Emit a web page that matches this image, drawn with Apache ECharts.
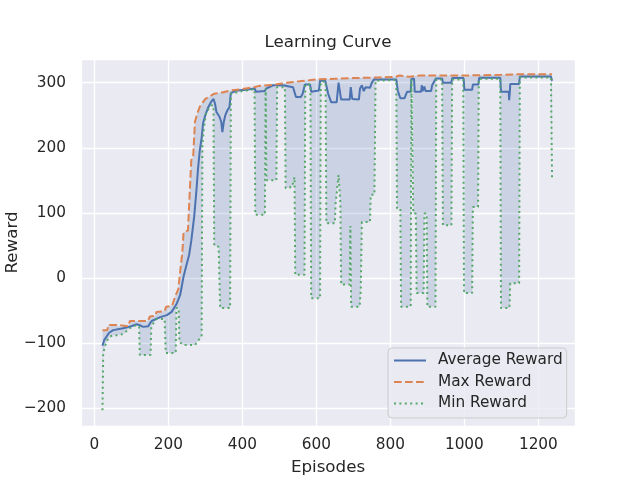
<!DOCTYPE html>
<html>
<head>
<meta charset="utf-8">
<script src="https://cdn.jsdelivr.net/npm/echarts@6/dist/echarts.min.js"></script>
<style>html,body{margin:0;padding:0;background:#fff}#c{width:640px;height:480px}</style>
</head>
<body>
<div id="c"></div>
<script>
// [episode, reward] pairs
const avgReward = [[22,-104],[27,-95],[33,-90],[40,-84],[51,-80],[78,-77],[100,-74],[114,-71],[125,-73],[132,-75],[146,-74],[150,-70],[155,-66],[178,-60],[196,-57],[209,-52],[223,-39],[232,-26],[241,2],[249,20],[256,35],[262,57],[266,60],[270,95],[276,135],[280,166],[285,196],[290,215],[294,238],[300,250],[307,261],[315,270],[322,275],[326,268],[330,255],[338,248],[343,240],[346,224],[350,240],[354,250],[360,258],[365,262],[369,284],[385,288],[410,289],[433,291],[437,286],[460,287],[465,291],[483,296],[510,296],[515,293],[537,293],[541,290],[545,278],[558,278],[563,283],[569,297],[583,297],[586,286],[607,288],[610,303],[624,303],[632,283],[640,270],[655,270],[660,300],[662,300],[667,274],[690,274],[693,293],[697,275],[715,274],[718,291],[723,296],[728,287],[733,293],[745,292],[750,300],[756,305],[816,305],[820,288],[827,276],[838,276],[845,286],[855,286],[857,306],[864,306],[866,286],[883,286],[885,296],[887,287],[890,287],[892,294],[895,287],[910,287],[913,296],[918,297],[923,306.5],[940,306.5],[942,300],[965,300],[967,307],[998,307],[1000,289],[1021,289],[1023,297],[1038,297],[1040,307.5],[1097,307.5],[1099,286],[1120,286],[1121,273],[1123,286],[1124,298],[1148,298],[1150,309.5],[1234,309.5],[1237,303]];

const maxReward = [[22,-80],[35,-80],[38,-72],[62,-72],[64,-74],[92,-74],[96,-66],[145,-66],[150,-59],[165,-58],[168,-52],[190,-51],[194,-44],[210,-43],[218,-29],[227,-17],[233,15],[238,40],[241,70],[253,73],[262,181],[267,185],[272,240],[278,252],[285,263],[300,275],[324,283],[345,285],[369,288],[400,290],[432,293],[445,295],[490,297],[520,300],[555,302],[600,305],[650,306],[700,307],[770,308],[815,309],[824,311],[850,309],[880,311],[1000,311],[1100,312],[1150,313],[1237,313]];

const minReward = [[22,-203],[24,-115],[28,-107],[33,-97],[42,-90],[51,-88],[60,-88],[78,-86],[96,-77],[114,-72],[121,-75],
[123,-118],[152,-118],[154,-75],[159,-70],[168,-63],[190,-63],
[193,-115],[220,-115],[222,-46],[228,-46],
[230,-98],[240,-103],[272,-103],[282,-95],[290,-90],
[292,205],[296,230],[302,254],[316,265],[322,265],
[324,50],[336,48],[340,-46],[367,-46],
[369,283],[400,287],[433,290],
[435,97],[461,97],[463,291],[465,150],[492,150],[494,293],[515,293],
[517,138],[535,140],[541,155],[543,5],[568,5],[570,297],[584,297],
[586,-31],[610,-31],[612,301],[625,302],
[627,84],[650,84],[652,114],[660,158],[665,115],[667,-10],[690,-10],[692,80],[694,-44],[717,-44],[720,-18],[723,86],[745,86],[747,128],[757,128],[760,303],[816,304],
[818,107],[827,107],[829,-44],[855,-44],[857,305],[861,305],[862,99],[869,99],[871,-23],[890,-23],[892,99],[898,99],[900,-44],[922,-44],[924,305],[940,305],[942,81],[965,81],[967,305],[997,305],[999,-23],[1021,-23],[1023,109],[1037,109],[1039,306],[1097,306],[1099,-46],[1122,-46],[1124,-8],[1148,-8],[1150,308],[1234,308],[1237,153]];

const seriesNames = ['Average Reward', 'Max Reward', 'Min Reward'];

const FONT = 'DejaVu Sans';
const chart = echarts.init(document.getElementById('c'), null, {renderer: 'canvas'});
const fmtMinus = s => String(s).replace('-', '\u2212');

chart.setOption({
  animation: false,
  backgroundColor: '#ffffff',
  title: {
    text: 'Learning Curve', left: 328, top: 34, textAlign: 'center', padding: 0,
    textStyle: {fontFamily: FONT, fontSize: 16.7, fontWeight: 'normal', color: '#262626'}
  },
  grid: {left: 81, right: 65, top: 59, bottom: 54, show: true, backgroundColor: '#eaeaf2', borderWidth: 0,
    containLabel: false, outerBoundsMode: 'none'},
  xAxis: {
    type: 'value', min: -36, max: 1299, splitNumber: 6,
    name: 'Episodes', nameLocation: 'middle', nameGap: 33, nameMoveOverlap: false,
    nameTextStyle: {fontFamily: FONT, fontSize: 16.7, color: '#262626'},
    axisLine: {show: false}, axisTick: {show: false},
    axisLabel: {fontFamily: FONT, fontSize: 15.3, color: '#262626', margin: 12,
      formatter: v => (Math.abs(v % 200) < 1e-6 ? fmtMinus(v) : '')},
    splitLine: {show: true, lineStyle: {color: '#ffffff', width: 1.3}}
  },
  yAxis: {
    type: 'value', min: -227.2, max: 336.3, splitNumber: 5,
    name: 'Reward', nameLocation: 'middle', nameGap: 60, nameRotate: 90, nameMoveOverlap: false,
    nameTextStyle: {fontFamily: FONT, fontSize: 16.7, color: '#262626'},
    axisLine: {show: false}, axisTick: {show: false},
    axisLabel: {fontFamily: FONT, fontSize: 15.3, color: '#262626', margin: 15,
      formatter: v => (Math.abs(v % 100) < 1e-6 ? fmtMinus(v) : '')},
    splitLine: {show: true, lineStyle: {color: '#ffffff', width: 1.3}}
  },
  legend: {
    data: seriesNames, orient: 'vertical', left: 388, top: 348,
    itemWidth: 32, itemHeight: 14, itemGap: 6.5,
    padding: [5, 4, 7, 5],
    itemStyle: {opacity: 0},
    backgroundColor: 'rgba(234,234,242,0.8)', borderColor: '#cccccc', borderWidth: 1, borderRadius: 4,
    textStyle: {fontFamily: FONT, fontSize: 15.3, color: '#262626', padding: [0, 0, 0, 7]}
  },
  series: [
    {
      type: 'custom', name: 'band', silent: true, z: 1,
      data: [[maxReward[0][0], maxReward[0][1]]],
      renderItem: function (params, api) {
        const pts = [];
        maxReward.forEach(p => pts.push(api.coord(p)));
        for (let i = minReward.length - 1; i >= 0; i--) pts.push(api.coord(minReward[i]));
        return {type: 'polygon', shape: {points: pts}, style: {fill: 'rgba(76,114,176,0.2)'}};
      }
    },
    {
      type: 'line', name: seriesNames[0], data: avgReward, symbol: 'none', z: 2,
      lineStyle: {color: '#4c72b0', width: 2}, itemStyle: {color: '#4c72b0'}
    },
    {
      type: 'line', name: seriesNames[1], data: maxReward, symbol: 'none', z: 2,
      lineStyle: {color: '#dd8452', width: 2, type: [7.7, 3.3]}, itemStyle: {color: '#dd8452'}
    },
    {
      type: 'line', name: seriesNames[2], data: minReward, symbol: 'none', z: 2,
      lineStyle: {color: '#55a868', width: 2, type: [2, 3.4]}, itemStyle: {color: '#55a868'}
    }
  ]
});
</script>
</body>
</html>
